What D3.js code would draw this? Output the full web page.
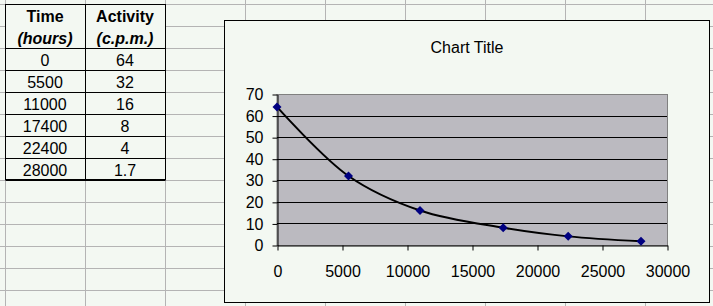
<!DOCTYPE html>
<html lang="en">
<head>
    <meta charset="UTF-8">
    <script src="https://d3js.org/d3.v7.min.js"></script>
    <title>Chart</title>
    <style>
        body { margin: 0; background: #f3f8f2; }
        svg { display: block; font-family: Arial, "Liberation Sans", sans-serif; }
    </style>
</head>
<body>
    <svg id="sheet" width="713" height="306"></svg>
    <script>
        // data from the table
        const times = [0, 5500, 11000, 17400, 22400, 28000];
        const activity = [64, 32, 16, 8, 4, 1.7];
        const timeLabels = ['0', '5500', '11000', '17400', '22400', '28000'];
        const activityLabels = ['64', '32', '16', '8', '4', '1.7'];
        const xTicks = [0, 5000, 10000, 15000, 20000, 25000, 30000];
        const yTicks = [0, 10, 20, 30, 40, 50, 60, 70];

        const svg = d3.select('#sheet');
        const fs = 16;

        // spreadsheet grid
        const grid = svg.append('g').attr('stroke', '#b4b4b4').attr('stroke-width', 1);
        for (let gx = 5; gx < 713; gx += 80) {
            grid.append('line').attr('x1', gx + 0.5).attr('x2', gx + 0.5).attr('y1', 0).attr('y2', 306);
        }
        for (let gy = 4; gy < 306; gy += 22) {
            grid.append('line').attr('x1', 0).attr('x2', 713).attr('y1', gy + 0.5).attr('y2', gy + 0.5);
        }

        // table
        const tbl = svg.append('g');
        tbl.append('rect').attr('x', 6).attr('y', 5).attr('width', 159).attr('height', 43)
            .attr('fill', '#f3f8f2').attr('stroke', 'none');
        const rows = times.length;
        tbl.append('rect').attr('x', 5.5).attr('y', 4.5).attr('width', 160).attr('height', 44 + rows * 22 - 1)
            .attr('fill', 'none').attr('stroke', '#000');
        tbl.append('line').attr('x1', 85.5).attr('x2', 85.5).attr('y1', 4.5).attr('y2', 48 + rows * 22 - 0.5).attr('stroke', '#000');
        for (let i = 0; i <= rows; i++) {
            tbl.append('line').attr('x1', 5.5).attr('x2', 165.5)
                .attr('y1', 48.5 + i * 22).attr('y2', 48.5 + i * 22).attr('stroke', '#000');
        }
        const head = [['Time', '(hours)', 45], ['Activity', '(c.p.m.)', 125]];
        head.forEach(h => {
            tbl.append('text').attr('x', h[2]).attr('y', 21.5).attr('text-anchor', 'middle')
                .attr('font-size', fs).attr('font-weight', 'bold').text(h[0]);
            tbl.append('text').attr('x', h[2]).attr('y', 43.5).attr('text-anchor', 'middle')
                .attr('font-size', fs).attr('font-weight', 'bold').attr('font-style', 'italic').text(h[1]);
        });
        for (let i = 0; i < rows; i++) {
            tbl.append('text').attr('x', 45).attr('y', 65.5 + i * 22).attr('text-anchor', 'middle')
                .attr('font-size', fs).text(timeLabels[i]);
            tbl.append('text').attr('x', 125).attr('y', 65.5 + i * 22).attr('text-anchor', 'middle')
                .attr('font-size', fs).text(activityLabels[i]);
        }

        // chart box
        svg.append('rect').attr('x', 224.5).attr('y', 20.5).attr('width', 485).attr('height', 282)
            .attr('fill', '#f3f8f2').attr('stroke', '#000');
        svg.append('text').attr('x', 467).attr('y', 53).attr('text-anchor', 'middle')
            .attr('font-size', fs).text('Chart Title');

        const pLeft = 277, pRight = 667, pTop = 94, pBottom = 245;
        const x = d3.scaleLinear([0, 30000], [pLeft, pRight]);
        const y = d3.scaleLinear([0, 70], [pBottom, pTop]);

        svg.append('rect').attr('x', pLeft).attr('y', pTop + 0.5).attr('width', pRight - pLeft + 0.5).attr('height', pBottom - pTop)
            .attr('fill', '#bbbac0').attr('stroke', '#808080');

        // gridlines
        svg.append('g').selectAll('line').data(yTicks.slice(1, -1)).join('line')
            .attr('x1', pLeft).attr('x2', pRight)
            .attr('y1', d => Math.round(y(d)) + 0.5).attr('y2', d => Math.round(y(d)) + 0.5)
            .attr('stroke', '#000');

        const yAxis = svg.append('g').attr('transform', `translate(${pLeft + 0.5},0.5)`)
            .call(d3.axisLeft(y).tickValues(yTicks).tickSize(5).tickSizeOuter(0).tickPadding(9));
        const xAxis = svg.append('g').attr('transform', `translate(0.5,${pBottom + 0.5})`)
            .call(d3.axisBottom(x).tickValues(xTicks).tickSize(5).tickSizeOuter(0).tickPadding(15).tickFormat(d3.format('d')));
        [xAxis, yAxis].forEach(a => {
            a.select('.domain').attr('stroke', '#000');
            a.selectAll('line').attr('stroke', '#000');
            a.selectAll('text').attr('font-size', fs).attr('font-family', 'Arial, "Liberation Sans", sans-serif').attr('fill', '#000');
        });

        const pts = times.map((t, i) => [t, activity[i]]);
        const line = d3.line().x(d => x(d[0])).y(d => y(d[1])).curve(d3.curveCatmullRom.alpha(0.5));
        svg.append('path').attr('d', line(pts)).attr('fill', 'none').attr('stroke', '#000').attr('stroke-width', 2);

        svg.append('g').selectAll('path').data(pts).join('path')
            .attr('transform', d => `translate(${x(d[0])},${y(d[1])})`)
            .attr('d', 'M0,-4.5L4.5,0L0,4.5L-4.5,0Z')
            .attr('fill', '#000080');
    </script>
</body>
</html>
